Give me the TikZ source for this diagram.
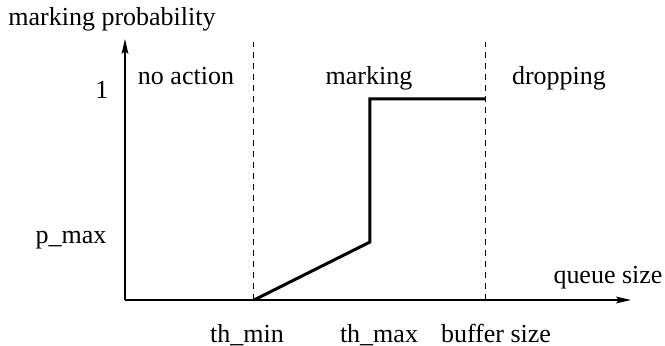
\documentclass[tikz,border=0pt]{standalone}
\usepackage{fontspec}
\setmainfont{Liberation Serif}
\usepackage{tikz}
\usetikzlibrary{arrows.meta}

\begin{document}
\begin{tikzpicture}[x=0.5pt,y=0.5pt,
    lbl/.style={font=\fontsize{13}{15}\selectfont, inner sep=0pt, anchor=base},
    axis/.style={line width=0.6pt, -{Stealth[length=7.5pt,width=3.4pt,inset=1.5pt]}},
    zone/.style={dashed, line width=0.5pt, dash pattern=on 3pt off 2.5pt},
    prob/.style={line width=1.5pt}]
    \useasboundingbox (-125,-46) rectangle (540,300);
    % Axes
    \coordinate (O) at (0,0);
    \coordinate (ytip) at (0,261);
    \coordinate (xtip) at (506,0);
    \draw[axis] (O) -- (ytip);
    \draw[axis] (O) -- (xtip);
    \node[lbl] (ylab) at (-13,274) {marking probability};
    \node[lbl] (xlab) at (483,16) {queue size};

    % Thresholds
    \coordinate (thmin) at (129,0);
    \coordinate (thmintop) at (129,258);
    \coordinate (buf) at (360,0);
    \coordinate (buftop) at (360,258);
    \draw[zone] (thmin) -- (thmintop);
    \draw[zone] (buf) -- (buftop);

    % Regions
    \node[lbl] (noact) at (61,215) {no action};
    \node[lbl] (mark) at (244,215) {marking};
    \node[lbl] (drop) at (434,215) {dropping};

    % Probability curve
    \coordinate (pm) at (245,58);
    \coordinate (one) at (245,201);
    \coordinate (oneend) at (360,201);
    \draw[prob] (thmin) -- (pm) -- (one) -- (oneend);

    % Tick labels
    \node[lbl] (lone) at (-23,201) {1};
    \node[lbl] (lpmax) at (-54,56) {p\_max};
    \node[lbl] (lthmin) at (122,-43) {th\_min};
    \node[lbl] (lthmax) at (254,-43) {th\_max};
    \node[lbl] (lbuf) at (371,-43) {buffer size};
\end{tikzpicture}
\end{document}
